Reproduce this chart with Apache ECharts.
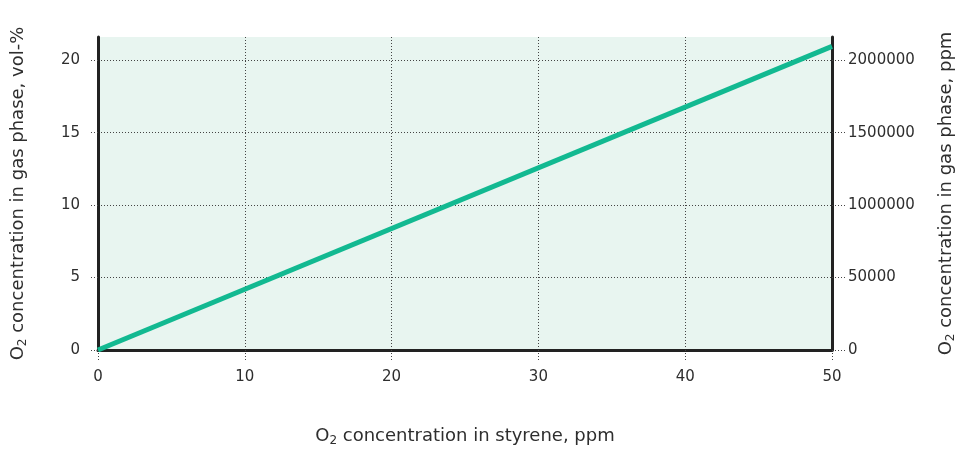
<!DOCTYPE html>
<html>
<head>
<meta charset="utf-8">
<script src="https://cdn.jsdelivr.net/npm/echarts@6/dist/echarts.min.js"></script>
<style>
html,body{margin:0;padding:0;background:#fff;}
#chart{width:957px;height:451px;}
</style>
</head>
<body>
<div id="chart"></div>
<script>
// Data
const xValues = [0, 50];            // O2 concentration in styrene, ppm
const yValues = [0, 20.95];         // O2 concentration in gas phase, vol-%
const xTicks = [0, 10, 20, 30, 40, 50];
const leftTicks = [0, 5, 10, 15, 20];
const rightTickValues = [0, 500000, 1000000, 1500000, 2000000];
const rightTickLabels = ['0', '50000', '1000000', '1500000', '2000000'];

const FONT = '"DejaVu Sans", "Noto Sans", sans-serif';
const TXT = '#2e2e2e';
const dotted = {color: '#444', width: 1, type: [1, 2]};
const titleRich = {
  t: {fontSize: 18, color: TXT, fontFamily: FONT},
  s: {fontSize: 12, color: TXT, fontFamily: FONT, verticalAlign: 'bottom', padding: [9, 0, 0, 0]}
};

const chart = echarts.init(document.getElementById('chart'), null, {renderer: 'canvas'});
chart.setOption({
  animation: false,
  textStyle: {fontFamily: FONT},
  grid: {left: 98, right: 125, top: 37, bottom: 101, show: true, backgroundColor: '#e8f5f0', borderWidth: 0,
    outerBoundsMode: 'none', containLabel: false},
  xAxis: {
    type: 'value', min: 0, max: 50, interval: 10,
    name: '{t|O}{s|2}{t| concentration in styrene, ppm}',
    nameLocation: 'middle', nameGap: 76,
    nameTextStyle: {rich: titleRich},
    axisLine: {show: true, lineStyle: {color: '#222', width: 3}},
    axisTick: {show: true, length: 12, lineStyle: dotted},
    axisLabel: {color: TXT, fontSize: 15, margin: 20, fontFamily: FONT,
      formatter: v => xTicks.includes(v) ? String(v) : ''},
    splitLine: {show: true, lineStyle: dotted}
  },
  yAxis: [{
    type: 'value', min: 0, max: 21.6, interval: 5, position: 'left',
    name: '{t|O}{s|2}{t| concentration in gas phase, vol-%}',
    nameLocation: 'middle', nameGap: 69, nameRotate: 90,
    nameTextStyle: {rich: titleRich},
    axisLine: {show: true, lineStyle: {color: '#222', width: 3}},
    axisTick: {show: true, length: 9, lineStyle: dotted},
    axisLabel: {color: TXT, fontSize: 15, margin: 18, fontFamily: FONT, showMaxLabel: false,
      formatter: v => leftTicks.includes(v) ? String(v) : ''},
    splitLine: {show: true, showMaxLine: false, lineStyle: dotted}
  }, {
    type: 'value', min: 0, max: 2160000, interval: 500000, position: 'right',
    name: '{t|O}{s|2}{t| concentration in gas phase, ppm}',
    nameLocation: 'middle', nameGap: 104, nameRotate: 90,
    nameTextStyle: {rich: titleRich},
    axisLine: {show: true, lineStyle: {color: '#222', width: 3}},
    axisTick: {show: true, length: 13, lineStyle: dotted},
    axisLabel: {color: TXT, fontSize: 15, margin: 16, fontFamily: FONT, showMaxLabel: false,
      formatter: v => { const i = rightTickValues.indexOf(v); return i >= 0 ? rightTickLabels[i] : ''; }},
    splitLine: {show: false}
  }],
  series: [{
    type: 'line',
    data: xValues.map((x, i) => [x, yValues[i]]),
    showSymbol: false, symbol: 'none',
    lineStyle: {color: '#12b991', width: 5},
    z: 3
  }]
});
</script>
</body>
</html>
